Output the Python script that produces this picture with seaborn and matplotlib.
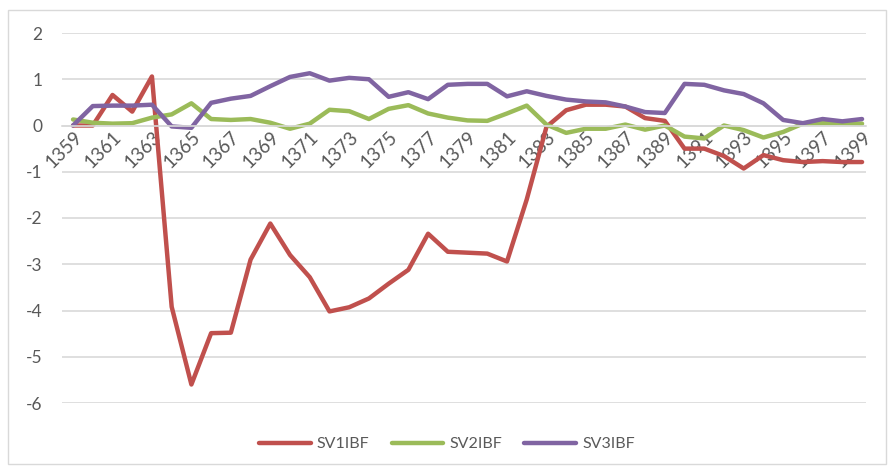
import matplotlib

matplotlib.use("Agg")
import matplotlib.pyplot as plt
import pandas as pd
import seaborn as sns
from matplotlib.patches import Rectangle

years = list(range(1359, 1400))

sv1ibf = [0.0, 0.0, 0.66, 0.30, 1.06, -3.92, -5.6, -4.49, -4.48, -2.9,
          -2.12, -2.8, -3.28, -4.02, -3.93, -3.74, -3.42, -3.12, -2.34, -2.73,
          -2.75, -2.77, -2.94, -1.6, -0.03, 0.33, 0.45, 0.45, 0.41, 0.16,
          0.1, -0.5, -0.5, -0.66, -0.93, -0.64, -0.75, -0.79, -0.77, -0.79,
          -0.79]
sv2ibf = [0.13, 0.06, 0.04, 0.05, 0.17, 0.24, 0.48, 0.14, 0.12, 0.14,
          0.06, -0.07, 0.04, 0.34, 0.31, 0.14, 0.36, 0.44, 0.26, 0.17,
          0.11, 0.1, 0.26, 0.43, 0.02, -0.16, -0.07, -0.07, 0.02, -0.09,
          0.0, -0.24, -0.28, 0.0, -0.1, -0.26, -0.14, 0.04, 0.05, 0.05,
          0.04]
sv3ibf = [0.0, 0.42, 0.43, 0.43, 0.45, -0.02, -0.05, 0.49, 0.58, 0.64,
          0.85, 1.05, 1.13, 0.97, 1.03, 1.0, 0.62, 0.72, 0.57, 0.88,
          0.9, 0.9, 0.63, 0.74, 0.64, 0.56, 0.52, 0.5, 0.41, 0.29,
          0.27, 0.9, 0.88, 0.76, 0.68, 0.48, 0.12, 0.05, 0.14, 0.09,
          0.14]

series_names = ["SV1IBF", "SV2IBF", "SV3IBF"]
colors = ["#C0504D", "#9BBB59", "#8064A2"]

df = pd.DataFrame({"year": years, "SV1IBF": sv1ibf, "SV2IBF": sv2ibf, "SV3IBF": sv3ibf})
long_df = df.melt(id_vars="year", var_name="series", value_name="value")

sns.set_style("white")
plt.rcParams["font.family"] = ["Lato", "DejaVu Sans"]
plt.rcParams["axes.unicode_minus"] = False

fig = plt.figure(figsize=(8.94, 4.72), dpi=100)
ax = fig.add_axes([62 / 894, 1 - 403 / 472, (866 - 62) / 894, (403 - 33) / 472])

sns.lineplot(
    data=long_df,
    x="year",
    y="value",
    hue="series",
    hue_order=series_names,
    palette=dict(zip(series_names, colors)),
    linewidth=3.2,
    ax=ax,
)

ax.set_ylim(-6, 2)
ax.set_yticks(range(-6, 3))
ax.set_xlim(1358.44, 1399.2)
ax.set_xticks(years[::2])
ax.set_xlabel("")
ax.set_ylabel("")

ax.grid(axis="y", color="#D9D9D9", linewidth=1.2)
ax.grid(axis="x", visible=False)
ax.set_axisbelow(True)
for side in ["top", "right", "left"]:
    ax.spines[side].set_visible(False)
ax.spines["bottom"].set_position(("data", 0))
ax.spines["bottom"].set_color("#D9D9D9")
ax.spines["bottom"].set_linewidth(1.2)

ax.tick_params(axis="both", length=0, colors="#595959")
ax.tick_params(axis="y", pad=14, labelsize=12.5)
ax.tick_params(axis="x", pad=2, labelsize=13.5)
for lbl in ax.get_xticklabels():
    lbl.set_rotation(45)
    lbl.set_ha("right")
    lbl.set_rotation_mode("anchor")

handles, labels = ax.get_legend_handles_labels()
ax.get_legend().remove()
fig.legend(
    handles,
    labels,
    loc="center",
    bbox_to_anchor=(0.5, 1 - 444 / 472),
    ncol=3,
    frameon=False,
    fontsize=11.5,
    handlelength=3.2,
    handletextpad=0.4,
    columnspacing=1.4,
    labelcolor="#595959",
)

fig.add_artist(Rectangle((8 / 894, 8 / 472), (886 - 8) / 894, (462 - 8) / 472,
                         transform=fig.transFigure, fill=False,
                         edgecolor="#D9D9D9", linewidth=1))

fig.savefig("out.png", dpi=100)
plt.close(fig)
